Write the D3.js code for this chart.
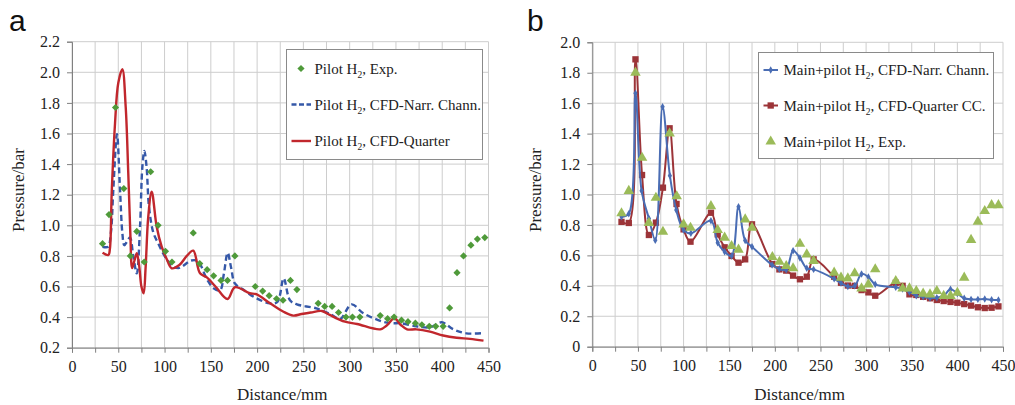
<!DOCTYPE html>
<html lang="en">
<head>
<meta charset="UTF-8">
<title>Pressure vs distance</title>
<script src="https://d3js.org/d3.v7.min.js"></script>
<style>
  body { margin: 0; background: #fff; }
  svg { display: block; font-family: "Liberation Serif", "Times New Roman", serif; }
  .grid line { stroke: #cdcdcd; stroke-width: 1; }
  .axis path, .axis line { stroke: #808080; }
  .axis text { font-size: 16px; fill: #222; font-family: "Liberation Serif", serif; }
</style>
</head>
<body>
<div id="chart"></div>
<script>
// ---- panel a: pilot H2 ----
const expA = [[33,0.88],[40,1.07],[47,1.77],[56,1.24],[63,0.80],[70,0.96],[78,0.76],[85,1.35],[93,1.00],[101,0.83],[108,0.76],
  [131,0.95],[138,0.75],[146,0.71],[153,0.67],[161,0.64],[168,0.64],[176,0.80],[198,0.60],[206,0.57],[213,0.54],[221,0.52],
  [228,0.51],[236,0.64],[243,0.58],[266,0.49],[273,0.47],[281,0.47],[288,0.43],[296,0.40],[303,0.40],[311,0.40],[333,0.41],
  [341,0.39],[348,0.40],[356,0.38],[363,0.37],[371,0.36],[378,0.35],[386,0.34],[393,0.34],[401,0.34],[408,0.46],[416,0.69],
  [423,0.80],[431,0.87],[438,0.91],[446,0.92]];

const narrA = [[33,0.86],[39,0.86],[42,0.95],[44.6,1.23],[48.6,1.595],[51.9,1.23],[54.4,0.95],[56.5,0.87],[60,0.90],[62.7,0.92],
  [66.3,0.795],[70,0.686],[73.5,0.99],[76,1.38],[78.2,1.486],[80.6,1.38],[83.2,1.12],[88,0.95],[93.3,0.88],[100.5,0.795],
  [107.7,0.74],[115,0.72],[129,0.77],[136,0.765],[145.8,0.647],[153,0.588],[160,0.575],[164,0.68],[168.2,0.82],[172,0.72],
  [176,0.62],[186,0.575],[198,0.527],[214,0.49],[222,0.50],[228.7,0.653],[235.5,0.51],[243,0.483],[264,0.457],[281,0.414],
  [289.5,0.386],[302,0.483],[314.8,0.425],[336,0.37],[346,0.36],[355,0.36],[372,0.34],[386.8,0.333],[399.4,0.366],
  [412,0.32],[426,0.294],[445,0.296]];

const quartA = [[33,0.82],[39.3,0.806],[41,0.85],[42.9,1.21],[46.5,1.667],[50,1.93],[54.4,2.02],[58,1.775],[60.8,1.34],
  [63,0.95],[65,0.72],[67.5,0.77],[70,0.817],[72.5,0.74],[75,0.60],[77.4,0.556],[79.5,0.72],[82.4,1.056],[86.1,1.22],
  [91.5,0.99],[96.9,0.86],[102.3,0.78],[107.7,0.719],[116,0.74],[124,0.80],[131,0.834],[138.3,0.686],[145.7,0.66],
  [155,0.60],[168,0.518],[176,0.595],[192,0.556],[199,0.55],[214,0.49],[228.5,0.435],[239,0.41],[248,0.42],[258,0.43],
  [270,0.44],[278.5,0.414],[295,0.37],[308,0.355],[333,0.32],[340,0.345],[348.3,0.392],[355,0.35],[362,0.32],[372,0.32],
  [386.8,0.305],[401,0.28],[415.6,0.265],[430,0.258],[444.6,0.246]];

// ---- panel b: main + pilot H2 ----
const narrB = [[32,0.854],[40,0.874],[47.3,1.665],[54,1.025],[62,0.843],[69,0.70],[77,1.577],[85,1.124],[92,0.898],[100,0.767],
  [108,0.745],[130,0.828],[137.4,0.683],[145,0.624],[152.6,0.596],[160.2,0.92],[167.5,0.697],[175,0.657],[197,0.537],
  [205,0.51],[212.5,0.506],[220,0.63],[227.5,0.583],[235,0.515],[242.5,0.508],[265,0.446],[272.5,0.418],[280,0.395],
  [287.5,0.40],[295,0.478],[302.5,0.458],[310,0.41],[332.5,0.39],[340,0.379],[347.5,0.36],[355,0.335],[362.5,0.328],
  [370,0.32],[377.5,0.322],[385,0.335],[392.5,0.377],[400,0.35],[407.5,0.318],[415,0.311],[422.5,0.311],[430,0.313],
  [437.5,0.309],[445,0.307]];

const quartB = [[32,0.82],[40,0.813],[47.3,1.888],[54.5,1.128],[62,0.734],[69.7,0.815],[77.4,1.045],[84.7,1.435],[92.3,0.938],
  [100,0.771],[107.6,0.69],[130,0.88],[137.4,0.738],[145,0.653],[152.6,0.596],[160.2,0.552],[167.5,0.574],[175,0.804],
  [197.3,0.543],[205,0.508],[212.5,0.50],[220,0.467],[227.5,0.443],[235,0.46],[242.5,0.574],[265,0.46],[272.5,0.42],
  [280,0.402],[287.5,0.40],[295,0.372],[302.5,0.357],[310,0.335],[332.5,0.42],[340,0.40],[347.5,0.344],[355,0.34],
  [362.5,0.328],[370,0.318],[377.5,0.307],[385,0.30],[392.5,0.294],[400,0.289],[407.5,0.28],[415,0.27],[422.5,0.259],
  [430,0.254],[437.5,0.256],[445,0.265]];

const expB = [[32,0.883],[40,1.03],[47.3,1.807],[54.5,1.248],[62,0.82],[69.7,0.985],[77.4,0.762],[84.7,1.408],[92.5,0.995],
  [100,0.81],[107.6,0.788],[130,0.93],[137.4,0.773],[145,0.723],[152.6,0.668],[160.2,0.644],[167.5,0.843],[175,0.788],
  [197.3,0.596],[205,0.565],[212.5,0.537],[220,0.522],[227.5,0.683],[235,0.613],[242.5,0.57],[265,0.493],[272.5,0.46],
  [280,0.455],[287.5,0.489],[295,0.39],[302.5,0.416],[310,0.515],[332.5,0.438],[340,0.39],[347.5,0.39],[355,0.372],
  [362.5,0.355],[370,0.35],[377.5,0.372],[385,0.34],[392.5,0.34],[400,0.361],[407.5,0.46],[415,0.708],[422.5,0.828],
  [430,0.898],[437.5,0.937],[445,0.937]];

const xTicks = d3.range(0, 451, 25);
const yTicksA = d3.range(0.2, 2.21, 0.2);
const yTicksB = d3.range(0, 2.01, 0.2);

const legendA = ["Exp.", "CFD-Narr. Chann.", "CFD-Quarter"];
const legendB = ["CFD-Narr. Chann.", "CFD-Quarter CC.", "Exp."];

const blueA = "#3558a8", redA = "#c1272d", greenA = "#4f9a3a";
const blueB = "#4a6db4", redB = "#9c3438", greenB = "#9bbb59";

const svg = d3.select("#chart").append("svg")
  .attr("width", 1015).attr("height", 405);

// scales
const xA = d3.scaleLinear().domain([0, 450]).range([72, 488.5]);
const yA = d3.scaleLinear().domain([0.2, 2.2]).range([347.7, 41.7]);
const xB = d3.scaleLinear().domain([0, 450]).range([592.3, 1003]);
const yB = d3.scaleLinear().domain([0, 2.0]).range([346.7, 42.3]);

function frame(x, y, yTicks, yFmt) {
  const g = svg.append("g");
  const grid = g.append("g").attr("class", "grid");
  grid.selectAll(".v").data(xTicks).join("line")
    .attr("x1", d => x(d)).attr("x2", d => x(d))
    .attr("y1", y.range()[0]).attr("y2", y.range()[1]);
  grid.selectAll(".h").data(yTicks).join("line")
    .attr("x1", x.range()[0]).attr("x2", x.range()[1])
    .attr("y1", d => y(d)).attr("y2", d => y(d));

  g.append("g").attr("class", "axis")
    .attr("transform", `translate(0,${y.range()[0]})`)
    .call(d3.axisBottom(x).tickValues(xTicks).tickSize(5).tickPadding(8)
      .tickFormat(d => d % 50 === 0 ? d : ""));
  g.append("g").attr("class", "axis")
    .attr("transform", `translate(${x.range()[0]},0)`)
    .call(d3.axisLeft(y).tickValues(yTicks).tickSize(5).tickPadding(7).tickFormat(yFmt));
  g.selectAll(".axis .domain").attr("stroke", "#808080");

  const cx = (x.range()[0] + x.range()[1]) / 2;
  g.append("text").attr("x", cx + 2).attr("y", 400).attr("text-anchor", "middle")
    .attr("font-size", 17).attr("fill", "#222").text("Distance/mm");
  return g;
}

function yTitle(xPos, yMid) {
  svg.append("text")
    .attr("transform", `translate(${xPos},${yMid}) rotate(-90)`)
    .attr("text-anchor", "middle").attr("font-size", 17).attr("fill", "#222")
    .text("Pressure/bar");
}

// ---------- panel a ----------
frame(xA, yA, yTicksA, d3.format(".1f"));
yTitle(24, 190);
svg.append("text").attr("x", 9).attr("y", 31).attr("font-family", "Liberation Sans, Arial, sans-serif")
  .attr("font-size", 30).attr("fill", "#111").text("a");

const lineA = d3.line().x(d => xA(d[0])).y(d => yA(d[1])).curve(d3.curveCatmullRom.alpha(0.5));
svg.append("path").datum(narrA).attr("d", lineA).attr("fill", "none")
  .attr("stroke", blueA).attr("stroke-width", 2.4).attr("stroke-dasharray", "6,3.5");
svg.append("path").datum(quartA).attr("d", lineA).attr("fill", "none")
  .attr("stroke", redA).attr("stroke-width", 2.4);

// diamond = square turned 45 degrees
const diamond = d3.symbol().type(d3.symbolSquare).size(26);
svg.append("g").selectAll("path").data(expA).join("path")
  .attr("d", diamond).attr("fill", greenA)
  .attr("transform", d => `translate(${xA(d[0])},${yA(d[1])}) rotate(45)`);

// legend a
const legA = svg.append("g");
legA.append("rect").attr("x", 286.5).attr("y", 49.5).attr("width", 196).attr("height", 110)
  .attr("fill", "#fff").attr("stroke", "#8a8a8a").attr("stroke-width", 1);
const rowsA = [68.5, 104.5, 141];
legA.append("path").attr("d", diamond).attr("fill", greenA)
  .attr("transform", `translate(301,${rowsA[0]}) rotate(45)`);
legA.append("line").attr("x1", 291.5).attr("x2", 311).attr("y1", rowsA[1]).attr("y2", rowsA[1])
  .attr("stroke", blueA).attr("stroke-width", 2.4).attr("stroke-dasharray", "5,2.5");
legA.append("line").attr("x1", 291.5).attr("x2", 311).attr("y1", rowsA[2]).attr("y2", rowsA[2])
  .attr("stroke", redA).attr("stroke-width", 2.4);

function legendText(g, x, y, pre, post) {
  const t = g.append("text").attr("x", x).attr("y", y + 5).attr("font-size", 15).attr("fill", "#222");
  t.append("tspan").text(pre + " H");
  t.append("tspan").attr("dy", 4).attr("font-size", 9.5).text("2");
  t.append("tspan").attr("dy", -4).text(", " + post);
}
legendA.forEach((s, i) => legendText(legA, 314.5, rowsA[i], "Pilot", s));

// ---------- panel b ----------
frame(xB, yB, yTicksB, d => d === 0 ? "0" : d3.format(".1f")(d));
yTitle(541, 190);
svg.append("text").attr("x", 527).attr("y", 31).attr("font-family", "Liberation Sans, Arial, sans-serif")
  .attr("font-size", 30).attr("fill", "#111").text("b");

const lineB = d3.line().x(d => xB(d[0])).y(d => yB(d[1])).curve(d3.curveCatmullRom.alpha(0.5));
const square = d3.symbol().type(d3.symbolSquare).size(40);
const smallDiamond = d3.symbol().type(d3.symbolDiamond).size(16);
const triangle = d3.symbol().type(d3.symbolTriangle).size(48);

svg.append("path").datum(quartB).attr("d", lineB).attr("fill", "none")
  .attr("stroke", redB).attr("stroke-width", 2);
svg.append("g").selectAll("path").data(quartB).join("path")
  .attr("d", square).attr("fill", redB)
  .attr("transform", d => `translate(${xB(d[0])},${yB(d[1])})`);

svg.append("path").datum(narrB).attr("d", lineB).attr("fill", "none")
  .attr("stroke", blueB).attr("stroke-width", 2);
svg.append("g").selectAll("path").data(narrB).join("path")
  .attr("d", smallDiamond).attr("fill", blueB)
  .attr("transform", d => `translate(${xB(d[0])},${yB(d[1])})`);

svg.append("g").selectAll("path").data(expB).join("path")
  .attr("d", triangle).attr("fill", greenB)
  .attr("transform", d => `translate(${xB(d[0])},${yB(d[1]) + 1})`);

// legend b
const legB = svg.append("g");
legB.append("rect").attr("x", 758.5).attr("y", 52.5).attr("width", 235).attr("height", 106)
  .attr("fill", "#fff").attr("stroke", "#8a8a8a").attr("stroke-width", 1);
const rowsB = [70, 105.5, 141.5];
legB.append("line").attr("x1", 763.5).attr("x2", 778).attr("y1", rowsB[0]).attr("y2", rowsB[0])
  .attr("stroke", blueB).attr("stroke-width", 2);
legB.append("path").attr("d", smallDiamond).attr("fill", blueB).attr("transform", `translate(770.7,${rowsB[0]})`);
legB.append("line").attr("x1", 763.5).attr("x2", 778).attr("y1", rowsB[1]).attr("y2", rowsB[1])
  .attr("stroke", redB).attr("stroke-width", 2);
legB.append("path").attr("d", square).attr("fill", redB).attr("transform", `translate(770.7,${rowsB[1]})`);
legB.append("path").attr("d", triangle).attr("fill", greenB).attr("transform", `translate(770.7,${rowsB[2]})`);
legendB.forEach((s, i) => legendText(legB, 783.5, rowsB[i], "Main+pilot", s));
</script>
</body>
</html>
